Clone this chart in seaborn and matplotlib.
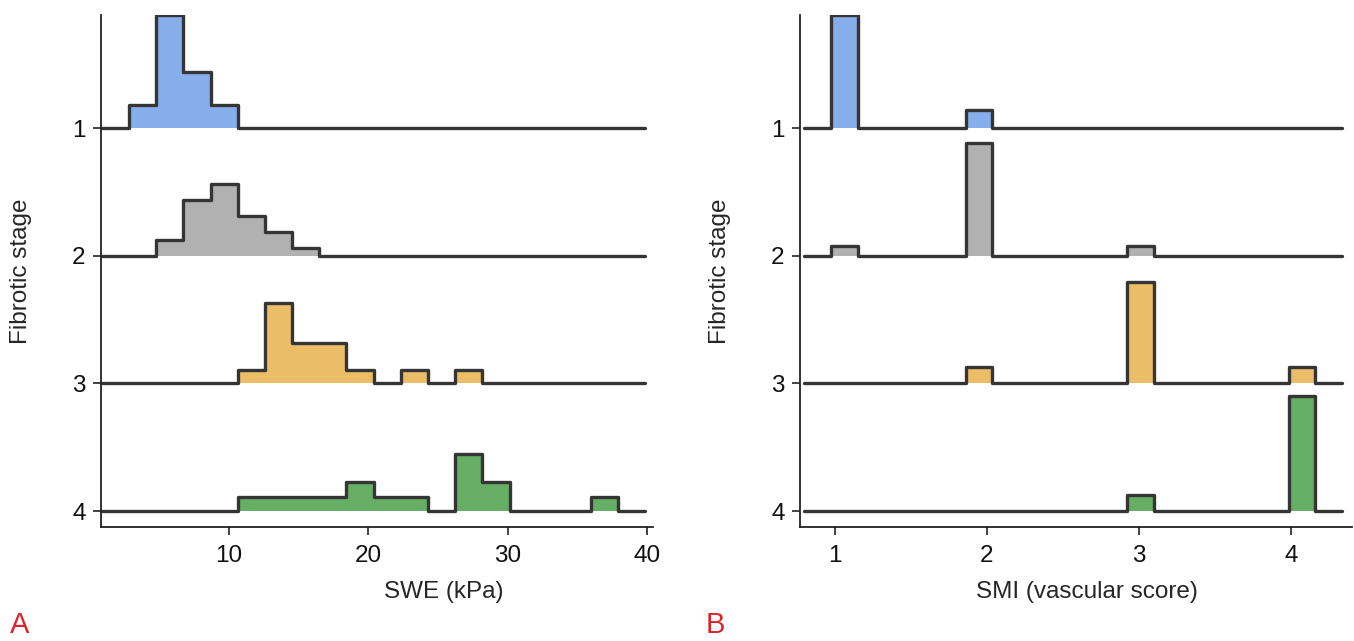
import numpy as np
import seaborn as sns
import matplotlib.pyplot as plt

# fibrotic stages and fill colours
stages = [1, 2, 3, 4]
stage_colors = ["#86aeea", "#b1b1b1", "#ebbd68", "#66ae66"]

# SWE (kPa): patient counts per histogram bin (20 bins between 0.92 and 39.86 kPa)
swe_range = (0.92, 39.86)
swe_counts_f1 = [0, 2, 10, 5, 2, 0, 0, 0, 0, 0, 0, 0, 0, 0, 0, 0, 0, 0, 0, 0]
swe_counts_f2 = [0, 0, 2, 7, 9, 5, 3, 1, 0, 0, 0, 0, 0, 0, 0, 0, 0, 0, 0, 0]
swe_counts_f3 = [0, 0, 0, 0, 0, 1, 6, 3, 3, 1, 0, 1, 0, 1, 0, 0, 0, 0, 0, 0]
swe_counts_f4 = [0, 0, 0, 0, 0, 1, 1, 1, 1, 2, 1, 1, 0, 4, 2, 0, 0, 0, 1, 0]

# SMI vascular score: relative bar heights per score
smi_range = (0.797, 4.337)
smi_scores = [1, 2, 3, 4]
smi_freq_f1 = [0.887, 0.139, 0.0, 0.0]
smi_freq_f2 = [0.078, 0.883, 0.078, 0.0]
smi_freq_f3 = [0.0, 0.125, 0.796, 0.128]
smi_freq_f4 = [0.0, 0.0, 0.128, 0.898]

sns.set_style("ticks")
plt.rcParams["font.family"] = ["Liberation Sans Narrow", "Liberation Sans", "DejaVu Sans"]
plt.rcParams["font.size"] = 17.5

fig = plt.figure(figsize=(13.54, 6.41), dpi=100)
ax1 = fig.add_axes([0.0746, 0.1778, 0.4077, 0.7988])
ax2 = fig.add_axes([0.5908, 0.1778, 0.4077, 0.7988])

line_col = "#353535"
peak = 0.885


def ridges(ax, heights, edges):
    for stage, h, col in zip(stages, heights, stage_colors):
        y = stage - np.append(h, h[-1])
        ax.fill_between(edges, stage, y, step="post", color=col, lw=0, zorder=1)
        sns.lineplot(x=edges, y=y, ax=ax, color=line_col, lw=2.4,
                     drawstyle="steps-post", estimator=None, sort=False, zorder=2)


# left: SWE histogram, density per stage, scaled to the panel
swe_edges = np.linspace(*swe_range, 21)
swe_w = swe_edges[1] - swe_edges[0]
swe_dens = []
for c in [swe_counts_f1, swe_counts_f2, swe_counts_f3, swe_counts_f4]:
    c = np.array(c, dtype=float)
    swe_dens.append(c / (c.sum() * swe_w))
top = max(d.max() for d in swe_dens)
ridges(ax1, [d * peak / top for d in swe_dens], swe_edges)

# right: SMI histogram
smi_edges = np.linspace(*smi_range, 21)
smi_h = []
for f in [smi_freq_f1, smi_freq_f2, smi_freq_f3, smi_freq_f4]:
    smi_h.append(np.histogram(smi_scores, bins=smi_edges, weights=f)[0])
ridges(ax2, smi_h, smi_edges)

ax1.set_xlim(0.86, 40.4)
ax1.set_xticks([10, 20, 30, 40])
ax2.set_xlim(0.77, 4.4)
ax2.set_xticks([1, 2, 3, 4])

for ax, xl, xc in [(ax1, "SWE (kPa)", 0.62), (ax2, "SMI (vascular score)", 0.52)]:
    ax.set_ylim(4.125, 0.115)
    ax.set_yticks(stages)
    ax.set_ylabel("Fibrotic stage")
    ax.yaxis.set_label_coords(-0.125, 0.5)
    ax.set_xlabel(xl)
    ax.xaxis.set_label_coords(xc, -0.105)
    ax.tick_params(axis="both", length=6, width=1.2, color="#222222", labelcolor="#111111")
    ax.tick_params(axis="x", pad=7)
    ax.tick_params(axis="y", pad=5)
    for s in ["left", "bottom"]:
        ax.spines[s].set_linewidth(1.3)
        ax.spines[s].set_color("#222222")
sns.despine(fig=fig)

fig.text(0.007, 0.003, "A", color="#d9252c", fontsize=21, ha="left", va="bottom")
fig.text(0.521, 0.003, "B", color="#d9252c", fontsize=21, ha="left", va="bottom")

fig.savefig("out.png", dpi=100)
